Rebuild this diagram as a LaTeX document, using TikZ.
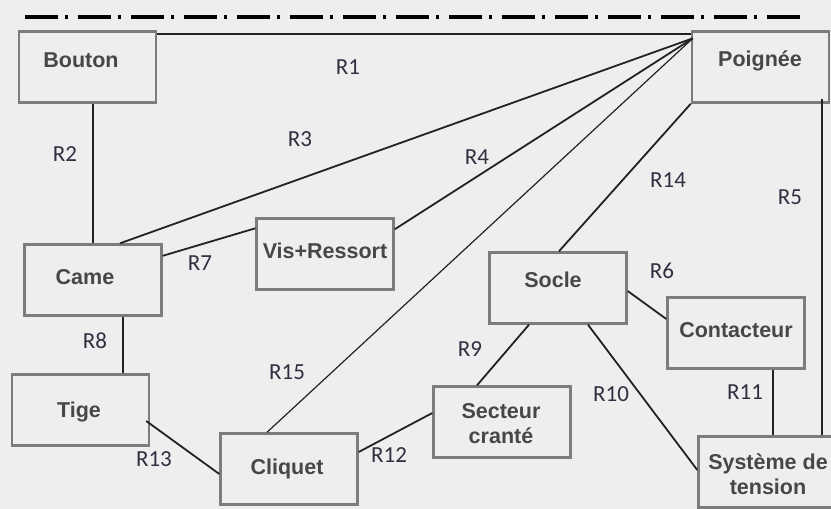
\documentclass[tikz,border=0pt]{standalone}
\usepackage{fontspec}
\setmainfont{Liberation Sans}
\newfontfamily\labfont{Carlito}
\definecolor{bg}{HTML}{EEEEEE}
\definecolor{boxline}{HTML}{7C7C7C}
\definecolor{txt}{HTML}{474747}
\definecolor{lab}{HTML}{2E3040}
\definecolor{wire}{HTML}{222222}
\begin{document}
\begin{tikzpicture}[x=1pt,y=-1pt,
  box/.style={draw=boxline,line width=2.4pt,fill=none,minimum width=137pt,minimum height=71pt,inner sep=0pt},
  btxt/.style={text=txt,font=\fontsize{21.5}{25}\selectfont\bfseries,inner sep=0pt,align=center},
  rlab/.style={text=lab,font=\labfont\fontsize{23}{26}\selectfont,inner sep=0pt},
  wirel/.style={draw=wire,line width=1.8pt},
  thinw/.style={draw=wire,line width=1.2pt}]
\fill[bg] (0,0) rectangle (831,509);
\useasboundingbox (0,0) rectangle (831,509);
% axis line
\coordinate (axA) at (25,17);
\coordinate (axB) at (806,17);
\draw[line width=4pt,black,dash pattern=on 33pt off 7pt on 3pt off 10pt] (axA) -- (axB);
% boxes
\node[box] (bouton) at (87.5,67) {};
\node[box] (poignee) at (760.5,67) {};
\node[box] (came) at (93,280) {};
\node[box] (vis) at (325,254) {};
\node[box] (tige) at (80.5,410) {};
\node[box] (cliquet) at (289,469) {};
\node[box] (secteur) at (502,422) {};
\node[box] (socle) at (558,288) {};
\node[box] (contacteur) at (736,333) {};
\node[box] (systeme) at (767,472) {};
% texts
\node[btxt] (tbouton) at (81,60) {Bouton};
\node[btxt] (tpoignee) at (760,61) {Poignée};
\node[btxt] (tcame) at (85,277) {Came};
\node[btxt] (tvis) at (325,251) {Vis+Ressort};
\node[btxt] (ttige) at (79,412) {Tige};
\node[btxt] (tcliquet) at (287,469) {Cliquet};
\node[btxt] (tsecteur) at (501,424) {Secteur\\[0pt]cranté};
\node[btxt] (tsocle) at (553,280) {Socle};
\node[btxt] (tcontacteur) at (736,330) {Contacteur};
\node[btxt] (tsysteme) at (768,474) {Système de\\[0pt]tension};
% hub on Poignee
\coordinate (hub) at ([xshift=2pt,yshift=-8pt]poignee.north west);
% connectors
\draw[wirel] ([yshift=-4pt]bouton.north east) -- ([yshift=-4pt]poignee.north west);
\draw[wirel] (bouton.south -| came.north) -- (came.north);
\draw[wirel] (hub) -- ([xshift=27pt]came.north);
\draw[wirel] (hub) -- ([yshift=-12pt]vis.north east);
\draw[wirel] ([yshift=-12.5pt]came.north east) -- ([yshift=-11pt]vis.north west);
\draw[thinw] (hub) -- ([xshift=-22pt]cliquet.north);
\draw[wirel] (poignee.south west) -- ([xshift=1pt]socle.north);
\draw[wirel] ([xshift=-8pt,yshift=5pt]poignee.south east) coordinate (r5a) -- (r5a |- systeme.north);
\draw[wirel] ([xshift=30pt]came.south) coordinate (r8a) -- (r8a |- tige.north);
\draw[wirel] ([xshift=-4pt,yshift=-11pt]tige.east) -- ([yshift=-5pt]cliquet.west);
\draw[wirel] ([yshift=17pt]cliquet.east) -- ([yshift=9pt]secteur.west);
\draw[wirel] ([xshift=-29pt]socle.south) -- ([xshift=-25pt]secteur.north);
\draw[wirel] ([xshift=30pt]socle.south) -- ([yshift=2pt]systeme.west);
\draw[wirel] ([yshift=-3pt]socle.east) -- ([yshift=14pt]contacteur.west);
\draw[wirel] ([xshift=37pt]contacteur.south) coordinate (r11a) -- (r11a |- systeme.north);
% labels
\node[rlab] (l1) at (348,67) {R1};
\node[rlab] (l2) at (65,154) {R2};
\node[rlab] (l3) at (300,139) {R3};
\node[rlab] (l4) at (477,157) {R4};
\node[rlab] (l5) at (790,197) {R5};
\node[rlab] (l6) at (662,271) {R6};
\node[rlab] (l7) at (200,263) {R7};
\node[rlab] (l8) at (95,341) {R8};
\node[rlab] (l9) at (470,349) {R9};
\node[rlab] (l10) at (611,394) {R10};
\node[rlab] (l11) at (745,392) {R11};
\node[rlab] (l12) at (389,455) {R12};
\node[rlab] (l13) at (154,459) {R13};
\node[rlab] (l14) at (668,180) {R14};
\node[rlab] (l15) at (287,372) {R15};
\end{tikzpicture}
\end{document}
